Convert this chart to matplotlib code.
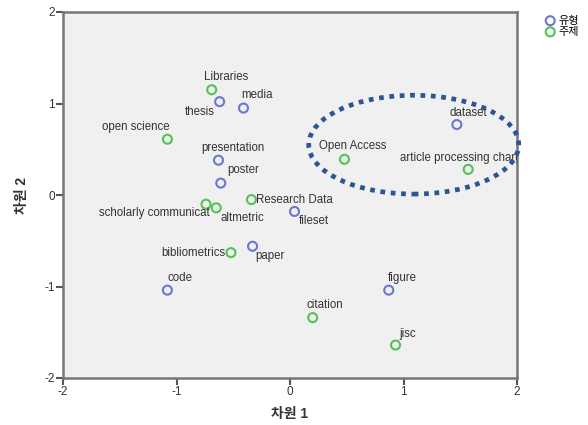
import matplotlib.pyplot as plt
from matplotlib.patches import Ellipse

plt.rcParams['font.family'] = ['Liberation Sans', 'Noto Sans CJK KR', 'DejaVu Sans']
plt.rcParams['axes.unicode_minus'] = False

# keywords (유형 = type, 주제 = topic)
labels = ['Libraries', 'thesis', 'media', 'open science', 'presentation', 'poster',
          'scholarly communicat', 'altmetric', 'Research Data', 'fileset',
          'bibliometrics', 'paper', 'code', 'figure', 'citation', 'jisc',
          'dataset', 'Open Access', 'article processing charge']
dim1 = [-0.69, -0.62, -0.41, -1.08, -0.63, -0.61, -0.74, -0.65, -0.34, 0.04,
        -0.52, -0.33, -1.08, 0.87, 0.20, 0.93, 1.47, 0.48, 1.57]
dim2 = [1.15, 1.02, 0.95, 0.61, 0.38, 0.13, -0.10, -0.14, -0.05, -0.18,
        -0.63, -0.56, -1.04, -1.04, -1.34, -1.64, 0.77, 0.39, 0.28]
group = ['주제', '유형', '유형', '주제', '유형', '유형', '주제', '주제', '주제', '유형',
         '주제', '유형', '유형', '유형', '주제', '주제', '유형', '주제', '주제']

# label offsets in pixels and horizontal alignment
offsets = [(14, 13, 'center'), (-5, -10, 'right'), (-2, 13, 'left'), (-32, 12, 'center'),
           (14, 12, 'center'), (7, 13, 'left'), (4, -9, 'right'), (4, -10, 'left'),
           (5, 0, 'left'), (4, -10, 'left'), (-6, 0, 'right'), (3, -10, 'left'),
           (0, 12, 'left'), (-1, 12, 'left'), (-6, 13, 'left'), (4, 11, 'left'),
           (-7, 12, 'left'), (-25, 13, 'left'), (-68, 11, 'left')]

colors = {'유형': '#6b78cf', '주제': '#55c255'}

# dotted ellipse around the open access cluster
ell_center = (1.09, 0.55)
ell_w, ell_h = 1.85, 1.08

fig = plt.figure(figsize=(5.88, 4.25), dpi=100)
ax = fig.add_axes([63 / 588, 1 - 378 / 425, 454 / 588, 366 / 425])
ax.set_facecolor('#f0f0f0')

for g in ['유형', '주제']:
    xs = [x for x, gg in zip(dim1, group) if gg == g]
    ys = [y for y, gg in zip(dim2, group) if gg == g]
    ax.scatter(xs, ys, s=42, facecolors='none', edgecolors=colors[g],
               linewidths=1.5, label=g, zorder=3)

for lab, x, y, (dx, dy, ha) in zip(labels, dim1, dim2, offsets):
    ax.annotate(lab, (x, y), xytext=(dx, dy), textcoords='offset pixels',
                ha=ha, va='center', fontsize=8.3, color='#333333',
                annotation_clip=False, clip_on=True)

ax.add_patch(Ellipse(ell_center, ell_w, ell_h, fill=False, edgecolor='#2c5595',
                     linewidth=3.4, linestyle=(0, (1, 1.2)), clip_on=False, zorder=4))

ax.set_xlim(-2, 2)
ax.set_ylim(-2, 2)
ax.set_xticks([-2, -1, 0, 1, 2])
ax.set_yticks([-2, -1, 0, 1, 2])
for sp in ax.spines.values():
    sp.set_color('#777777')
    sp.set_linewidth(1.8)
ax.tick_params(direction='out', length=5, width=1.5, color='#555555',
               labelsize=8.5, labelcolor='#333333', pad=1)
ax.set_xlabel('차원 1', fontsize=10, fontweight='bold', color='#333333', labelpad=6)
ax.set_ylabel('차원 2', fontsize=10, fontweight='bold', color='#333333', labelpad=11)

fig.legend(loc='upper left', bbox_to_anchor=(538 / 588, 1 - 10 / 425), frameon=False,
           handletextpad=0.1, labelspacing=0.1, borderpad=0, handlelength=1.2,
           prop={'family': ['Noto Sans CJK KR'], 'size': 8})

fig.savefig('out.png', dpi=100)
